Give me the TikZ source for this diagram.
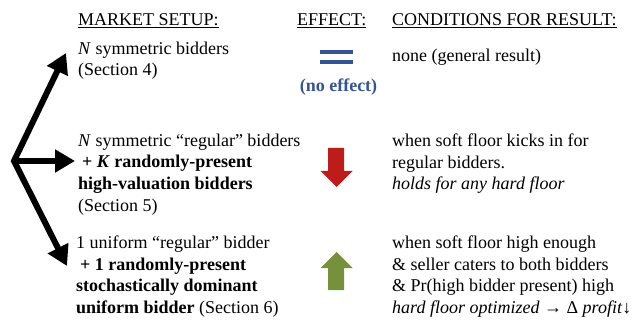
\documentclass[tikz,border=0pt]{standalone}
\usepackage{fontspec}
\setmainfont{Liberation Serif}[Ligatures=TeX]
\usepackage{xcolor}
\usepackage{tikz}
\usetikzlibrary{positioning, arrows.meta}

\definecolor{effblue}{RGB}{52,84,150}
\definecolor{effred}{RGB}{190,28,26}
\definecolor{effgreen}{RGB}{118,144,60}

\begin{document}
\begin{tikzpicture}[x=1pt, y=-1pt,
        every node/.style={font=\fontsize{18}{21.8}\selectfont},
        header/.style={anchor=base west, inner sep=0},
        block/.style={anchor=north west, inner sep=0, align=left},
        branch/.style={line width=6pt, line join=miter, -{Triangle[length=20pt, width=22pt]}}]
        \useasboundingbox (0,0) rectangle (639,323);

        % Headers
        \node (hsetup) [header] at (78,26) {\underline{MARKET SETUP:}};
        \node (heffect) [header] at (297,26) {\underline{EFFECT:}};
        \node (hcond) [header] at (392,26) {\underline{CONDITIONS FOR RESULT:}};

        % Market setups
        \node (setup_1) [block] at (78,41.5) {\textit{N} symmetric bidders\\(Section 4)};
        \node (setup_2) [block] at (78,133.5) {\textit{N} symmetric ``regular'' bidders\\
            \hspace*{4pt}\textbf{+ \textit{K} randomly-present}\\
            \textbf{high-valuation bidders}\\(Section 5)};
        \node (setup_3) [block] at (76,235.5) {1 uniform ``regular'' bidder\\
            \hspace*{4pt}\textbf{+ 1 randomly-present}\\
            \textbf{stochastically dominant}\\
            \textbf{uniform bidder} (Section 6)};

        % Effects
        \fill[effblue] (320,50) rectangle (353,54.5);
        \fill[effblue] (320,60) rectangle (353,64.5);
        \node (noeff) [inner sep=0, text=effblue] at (338.5,87) {\textbf{(no effect)}};
        \fill[effred] (328,148) -- (344,148) -- (344,171) -- (352.5,171) -- (336.5,187)
            -- (320.5,171) -- (328,171) -- cycle;
        \fill[effgreen] (328,290) -- (344,290) -- (344,268) -- (352.5,268) -- (336.5,252)
            -- (320.5,268) -- (328,268) -- cycle;

        % Conditions
        \node (cond_1) [block] at (392,48.5) {none (general result)};
        \node (cond_2) [block] at (392,133.5) {when soft floor kicks in for\\regular bidders.\\
            \textit{holds for any hard floor}};
        \node (cond_3) [block] at (392,235.5) {when soft floor high enough\\
            \& seller caters to both bidders\\
            \& Pr(high bidder present) high\\
            \textit{hard floor optimized} → Δ \textit{profit}↓};

        % Arrows
        \coordinate (hub) at (14,161);
        \coordinate (tip_1) at (66,53);
        \coordinate (tip_2) at (75,161);
        \coordinate (tip_3) at (67,266);
        \draw[branch, {Triangle[length=20pt, width=22pt]}-{Triangle[length=20pt, width=22pt]}] (tip_1) -- (hub) -- (tip_3);
        \draw[branch] (hub) -- (tip_2);
\end{tikzpicture}
\end{document}
